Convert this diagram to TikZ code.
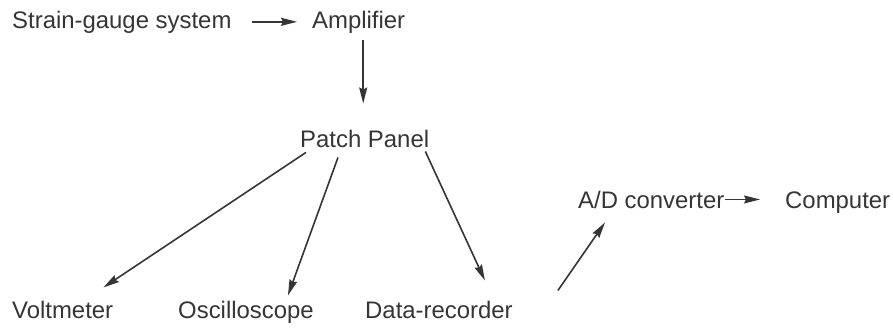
\documentclass[tikz,border=0pt]{standalone}
\usepackage{fontspec}
\setmainfont{Liberation Sans}
\usetikzlibrary{arrows.meta}
\definecolor{inkgray}{HTML}{353535}

\begin{document}
\begin{tikzpicture}[x=1bp,y=-1bp,
  lbl/.style={anchor=base west,inner sep=0pt,text=inkgray,font=\fontsize{24}{28}\selectfont},
  arr/.style={draw=inkgray,line width=1.6bp,-{Stealth[length=16bp,width=8bp,inset=2bp]}}]
\useasboundingbox[fill=white] (0,0) rectangle (893,328);

% top row
\node[lbl] (sg) at (12,28) {Strain-gauge system};
\node[lbl] (amp) at (312,28) {Amplifier};
\node[lbl] (pp) at (300,147) {Patch Panel};

% bottom row
\foreach \name/\xpos/\txt in {volt/12/Voltmeter,osc/178/Oscilloscope,dr/365/Data-recorder} {
  \node[lbl] (\name) at (\xpos,318) {\txt};
}
\node[lbl] (ad) at (578,208) {A/D converter};
\node[lbl] (comp) at (785,208) {Computer};

\draw[arr,shorten <=20bp,shorten >=15bp] (sg) -- (amp);
\draw[arr,shorten <=7bp,shorten >=26bp] ([xshift=4.5bp]amp.south) -- ([xshift=4.5bp]amp.south |- pp.north);
\draw[arr] ([xshift=6bp,yshift=-5bp]pp.south west) -- ([xshift=-10bp,yshift=13bp]volt.north east);
\draw[arr] ([xshift=38bp,yshift=-10bp]pp.south west) -- ([xshift=-26bp,yshift=5bp]osc.north east);
\draw[arr] ([xshift=-4bp,yshift=-4bp]pp.south east) -- ([xshift=-28bp,yshift=20bp]dr.north east);
\draw[arr] ([xshift=45bp,yshift=10bp]dr.north east) -- ([xshift=27bp,yshift=-14bp]ad.south west);
\draw[arr,shorten >=25bp] (ad.east) -- (ad.east -| comp.west);
\end{tikzpicture}
\end{document}
